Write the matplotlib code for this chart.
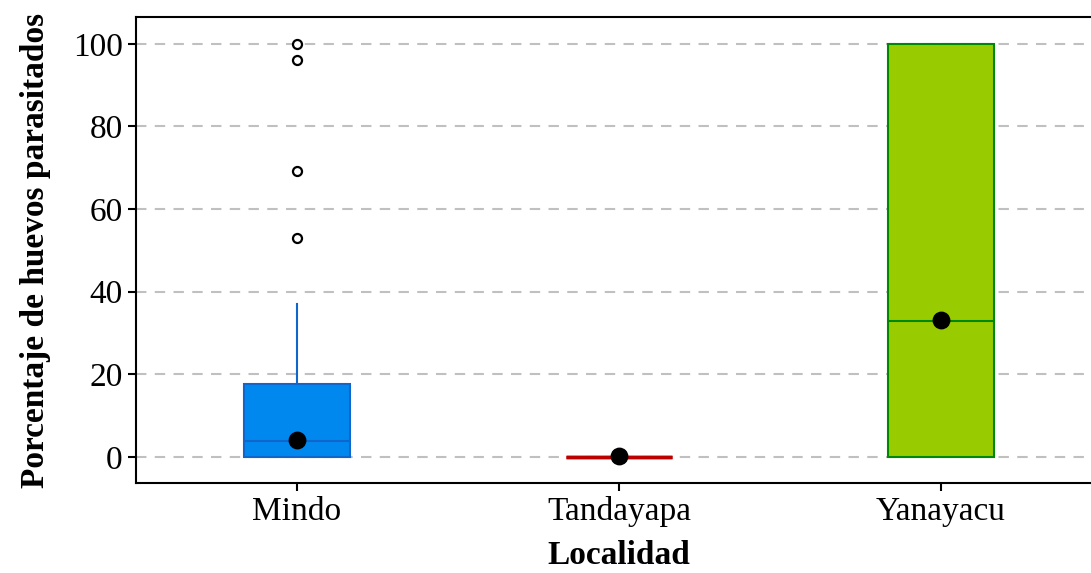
import matplotlib.pyplot as plt
import numpy as np

# datos
localidades = ['Mindo', 'Tandayapa', 'Yanayacu']
q1 = [0, 0, 0]
medianas = [3.8, 0, 32.9]
q3 = [17.7, 0, 100]
bigote_inf = [0, 0, 0]
bigote_sup = [37, 0, 100]
atipicos = [[53, 69.2, 96, 100], [], []]
medias = [4.2, 0.2, 33.2]

relleno = ['#0088ee', '#cc0000', '#99cc00']
borde = ['#1166cc', '#bb0000', '#008800']

plt.rcParams['font.family'] = ['Liberation Serif', 'DejaVu Serif']
fs = 24

fig = plt.figure(figsize=(10.91, 5.73), dpi=100)
ax = fig.add_axes([136 / 1091, 1 - 483 / 573, (1102 - 136) / 1091, (483 - 17) / 573])

pos = np.arange(1, len(localidades) + 1)
for i in range(len(localidades)):
    st = [{'med': medianas[i], 'q1': q1[i], 'q3': q3[i], 'whislo': bigote_inf[i],
           'whishi': bigote_sup[i], 'fliers': atipicos[i]}]
    lw = 2.5 if i == 1 else 1.5
    ax.bxp(st, positions=[pos[i]], widths=0.33, patch_artist=True, showcaps=False,
           boxprops=dict(facecolor=relleno[i], edgecolor=borde[i], linewidth=lw),
           medianprops=dict(color=borde[i], linewidth=lw),
           whiskerprops=dict(color=borde[i], linewidth=1.5),
           flierprops=dict(marker='o', markerfacecolor='white', markeredgecolor='black',
                           markersize=6.5, markeredgewidth=1.6),
           zorder=3)

ax.scatter(pos, medias, s=140, color='black', zorder=5)

ax.set_xlim(0.5, 3.5)
ax.set_ylim(-6.3, 106.5)
ax.set_yticks([0, 20, 40, 60, 80, 100])
ax.set_xticks(pos)
ax.set_xticklabels(localidades)
ax.tick_params(labelsize=fs, length=6, width=1.5, direction='out')
ax.yaxis.grid(True, linestyle=(0, (5, 4)), color='#c0c0c0', linewidth=1.5, zorder=0)
ax.set_axisbelow(True)
for s in ax.spines.values():
    s.set_linewidth(1.5)

ax.set_xlabel('Localidad', fontsize=24, fontweight='bold', labelpad=9)
ax.set_ylabel('Porcentaje de huevos parasitados', fontsize=24, fontweight='bold', labelpad=16)

plt.savefig('out.png', dpi=100)
